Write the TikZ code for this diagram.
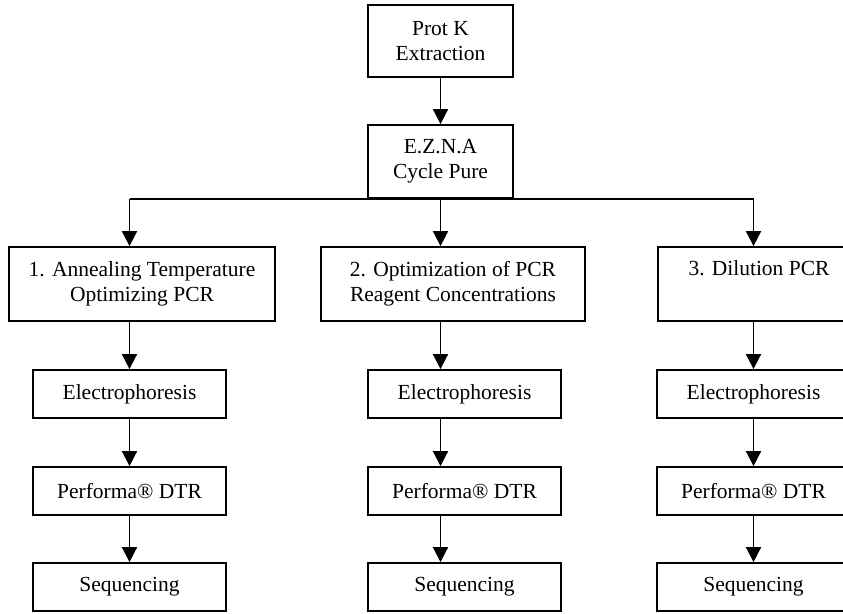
\documentclass[tikz,border=0pt]{standalone}
\usepackage{fontspec}
\setmainfont{Liberation Serif}
\usetikzlibrary{arrows.meta}
\tikzset{
  box/.style={draw, line width=1.8pt, inner sep=0pt, align=center, font=\fontsize{21.5}{25}\selectfont},
  bigbox/.style={box, minimum height=74pt},
  smallbox/.style={box, minimum width=193pt, minimum height=48pt},
  topbox/.style={box, minimum width=145pt, minimum height=72pt},
  arr/.style={line width=1.8pt, -{Triangle[length=15pt,width=15pt]}},
  ln/.style={line width=1.8pt}
}
\begin{document}
\begin{tikzpicture}[x=1pt,y=-1pt]
\useasboundingbox (0,0) rectangle (843,613);
\clip (0,0) rectangle (843,613);
\node[topbox] (prot) at (440.5,41) {Prot K\\Extraction};
\node[topbox, minimum height=73pt] (ezna) at (440.5,161.5) {E.Z.N.A\\Cycle Pure};
\node[bigbox, minimum width=266pt] (b1) at (142,284) {1. Annealing Temperature\\Optimizing PCR};
\node[bigbox, minimum width=264pt] (b2) at (453,284) {2. Optimization of PCR\\Reagent Concentrations};
\node[bigbox, minimum width=202pt] (b3) at (759,284) {3. Dilution PCR\\\strut};
\node[smallbox] (e1) at (129.5,394) {Electrophoresis};
\node[smallbox] (e2) at (464.5,394) {Electrophoresis};
\node[smallbox] (e3) at (753.5,394) {Electrophoresis};
\node[smallbox] (p1) at (129.5,491) {Performa® DTR};
\node[smallbox] (p2) at (464.5,491) {Performa® DTR};
\node[smallbox] (p3) at (753.5,491) {Performa® DTR};
\node[smallbox] (s1) at (129.5,587) {Sequencing};
\node[smallbox] (s2) at (464.5,587) {Sequencing};
\node[smallbox] (s3) at (753.5,587) {Sequencing};
\draw[arr] (prot.south) -- (ezna.north);
\draw[ln] (ezna.south -| e1) -- (ezna.south -| e3);
\draw[arr] (ezna.south -| e1) -- (b1.north -| e1);
\draw[arr] (ezna.south) -- (b2.north -| ezna);
\draw[arr] (ezna.south -| e3) -- (b3.north -| e3);
\draw[arr] (b1.south -| e1) -- (e1.north);
\draw[arr] (b2.south -| ezna) -- (e2.north -| ezna);
\draw[arr] (b3.south -| e3) -- (e3.north);
\draw[arr] (e1.south) -- (p1.north);
\draw[arr] (e2.south -| ezna) -- (p2.north -| ezna);
\draw[arr] (e3.south) -- (p3.north);
\draw[arr] (p1.south) -- (s1.north);
\draw[arr] (p2.south -| ezna) -- (s2.north -| ezna);
\draw[arr] (p3.south) -- (s3.north);
\end{tikzpicture}
\end{document}
